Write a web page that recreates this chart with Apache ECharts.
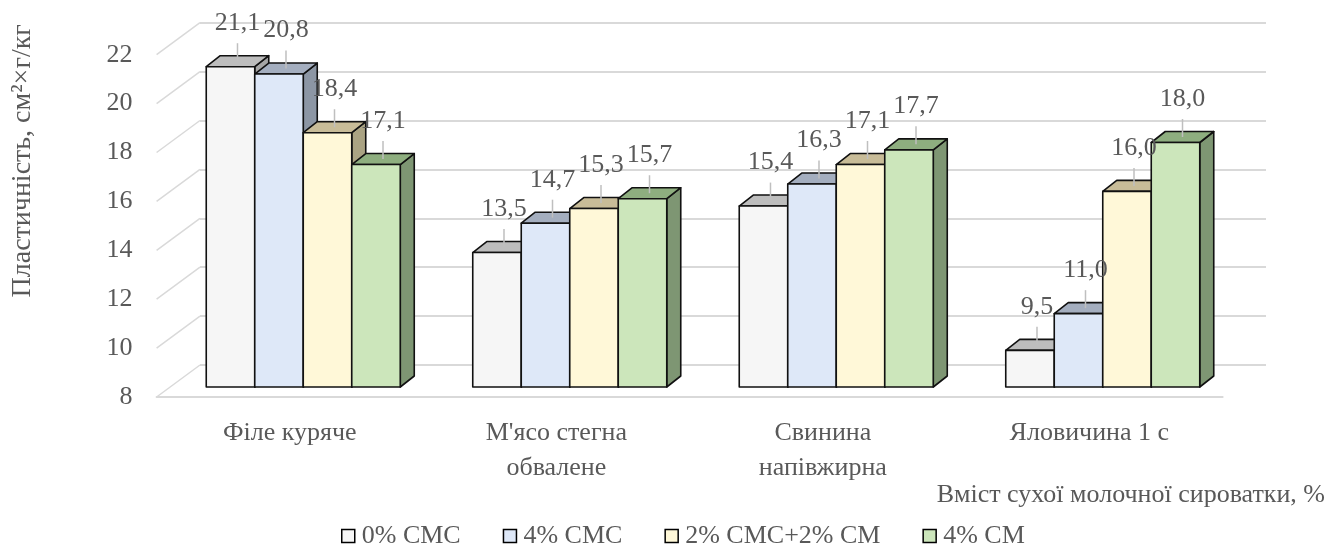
<!DOCTYPE html>
<html>
<head>
<meta charset="utf-8">
<script src="https://cdn.jsdelivr.net/npm/echarts@6/dist/echarts.min.js"></script>
<style>
  html, body { margin: 0; padding: 0; background: #fff; }
  #main { width: 1329px; height: 555px; }
</style>
</head>
<body>
<div id="main"></div>
<script>
// дані
const categories = ['Філе куряче', 'М\'ясо стегна\nобвалене', 'Свинина\nнапівжирна', 'Яловичина 1 с'];
const seriesNames = ['0% СМС', '4% СМС', '2% СМС+2% СМ', '4% СМ'];
const cmc0 = [21.1, 13.5, 15.4, 9.5];
const cmc4 = [20.8, 14.7, 16.3, 11.0];
const cmc2cm2 = [18.4, 15.3, 17.1, 16.0];
const cm4 = [17.1, 15.7, 17.7, 18.0];
const yTicks = [8, 10, 12, 14, 16, 18, 20, 22];

// кольори: передня грань, верх, бік
const faces = [
  ['#F6F6F6', '#BDBDBD', '#A6A6A6'],
  ['#DEE8F8', '#A4AEBF', '#8C96A4'],
  ['#FFF8D8', '#C8BC98', '#AAA383'],
  ['#CCE6BB', '#8EAE7F', '#7E9673']
];

const FONT = 'Liberation Serif';
const TXT = '#595959';
const GRID_C = '#D9D9D9';

// площини "3D": передня (підлога), площина стовпців, задня стінка
const W = 1066;
const FRONT = { x: 156.6, top: 54.7, bottom: 397 };
const BAR_DX = 13.4, BAR_DY = -10;     // зсув площини стовпців
const BACK_DX = 43.4, BACK_DY = -32;   // зсув задньої стінки
const DEPTH_X = 14, DEPTH_Y = -11;     // глибина самого стовпця

function gridAt(dx, dy) {
  return {
    left: FRONT.x + dx,
    width: W,
    top: FRONT.top + dy,
    height: FRONT.bottom - FRONT.top,
    outerBoundsMode: 'none',
    containLabel: false
  };
}

function fmt(v) {
  return v.toFixed(1).replace('.', ',');
}

function barRender(si) {
  return function (params, api) {
    const cat = api.value(0);
    const val = api.value(1);
    const top = api.coord([cat, val]);
    const base = api.coord([cat, 8]);
    const band = api.size([1, 0])[0];
    const bw = band * 0.182;
    const x0 = top[0] - 2 * bw + si * bw;
    const x1 = x0 + bw;
    const yt = top[1];
    const yb = base[1];
    const f = faces[si];
    const edge = { stroke: '#111', lineWidth: 1.6, lineJoin: 'round' };
    const cx = x0 + bw / 2 + DEPTH_X / 2;
    const cy = yt + DEPTH_Y / 2;
    return {
      type: 'group',
      children: [
        {
          type: 'polygon',
          shape: { points: [[x1, yt], [x1 + DEPTH_X, yt + DEPTH_Y], [x1 + DEPTH_X, yb + DEPTH_Y], [x1, yb]] },
          style: Object.assign({ fill: f[2] }, edge)
        },
        {
          type: 'polygon',
          shape: { points: [[x0, yt], [x0 + DEPTH_X, yt + DEPTH_Y], [x1 + DEPTH_X, yt + DEPTH_Y], [x1, yt]] },
          style: Object.assign({ fill: f[1] }, edge)
        },
        {
          type: 'rect',
          shape: { x: x0, y: yt, width: bw, height: yb - yt },
          style: Object.assign({ fill: f[0] }, edge)
        },
        {
          type: 'line',
          z2: 20,
          shape: { x1: cx, y1: cy, x2: cx, y2: cy - 18 },
          style: { stroke: '#BFBFBF', lineWidth: 1.5 }
        },
        {
          type: 'text',
          z2: 30,
          x: cx,
          y: cy - 38,
          style: {
            text: fmt(val),
            fill: TXT,
            font: '26px "' + FONT + '"',
            align: 'center',
            verticalAlign: 'middle'
          }
        }
      ]
    };
  };
}

const values = [cmc0, cmc4, cmc2cm2, cm4];

const barSeries = values.map(function (arr, si) {
  return {
    name: seriesNames[si],
    type: 'custom',
    xAxisIndex: 0,
    yAxisIndex: 0,
    renderItem: barRender(si),
    encode: { x: 0, y: 1 },
    itemStyle: { color: faces[si][0], borderColor: '#000', borderWidth: 1.5 },
    data: arr.map(function (v, i) { return [i, v]; }),
    silent: true
  };
});

const chart = echarts.init(document.getElementById('main'));

const option = {
  animation: false,
  textStyle: { fontFamily: FONT, color: TXT },
  // назва осі X (праворуч під підписами категорій)
  title: {
    text: 'Вміст сухої молочної сироватки, %',
    right: 4,
    top: 481,
    padding: 0,
    textStyle: { color: TXT, fontFamily: FONT, fontSize: 26, fontWeight: 'normal', lineHeight: 28 }
  },
  grid: [
    gridAt(BAR_DX, BAR_DY),
    gridAt(0, 0),
    gridAt(BACK_DX, BACK_DY)
  ],
  xAxis: [
    { gridIndex: 0, type: 'category', data: categories, show: false },
    {
      gridIndex: 1,
      type: 'category',
      data: categories,
      axisLine: { lineStyle: { color: GRID_C, width: 2 } },
      axisTick: { show: false },
      axisLabel: { interval: 0, color: TXT, fontFamily: FONT, fontSize: 26, lineHeight: 35, margin: 19 }
    },
    { gridIndex: 2, type: 'category', data: categories, show: false }
  ],
  yAxis: [
    { gridIndex: 0, type: 'value', min: 8, max: 22, interval: 2, show: false },
    {
      gridIndex: 1,
      type: 'value',
      min: 8,
      max: 22,
      interval: 2,
      axisLine: { show: false },
      axisTick: { show: false },
      splitLine: { show: false },
      axisLabel: { color: TXT, fontFamily: FONT, fontSize: 26, margin: 24 },
      name: 'Пластичність, см²×г/кг',
      nameLocation: 'middle',
      nameGap: 120,
      nameTextStyle: { color: TXT, fontFamily: FONT, fontSize: 28, padding: [0, 0, 0, 130] }
    },
    {
      gridIndex: 2,
      type: 'value',
      min: 8,
      max: 22,
      interval: 2,
      axisLine: { show: false },
      axisTick: { show: false },
      axisLabel: { show: false },
      splitLine: { lineStyle: { color: GRID_C, width: 2 } }
    }
  ],
  legend: {
    data: seriesNames,
    bottom: 1,
    left: 336,
    icon: 'rect',
    itemWidth: 13,
    itemHeight: 13,
    itemGap: 42,
    textStyle: { color: TXT, fontFamily: FONT, fontSize: 26, padding: [0, 0, 0, 2] },
    itemStyle: { borderColor: '#000', borderWidth: 1.5 }
  },
  series: [
    {
      // діагоналі бічної стінки
      type: 'custom',
      xAxisIndex: 1,
      yAxisIndex: 1,
      silent: true,
      encode: { x: 0, y: 1 },
      data: yTicks.map(function (v) { return [0, v]; }),
      renderItem: function (params, api) {
        const p = api.coord([0, api.value(1)]);
        const x = params.coordSys.x;
        return {
          type: 'line',
          shape: { x1: x, y1: p[1], x2: x + BACK_DX, y2: p[1] + BACK_DY },
          style: { stroke: GRID_C, lineWidth: 1.5 }
        };
      }
    }
  ].concat(barSeries)
};

chart.setOption(option);
</script>
</body>
</html>
